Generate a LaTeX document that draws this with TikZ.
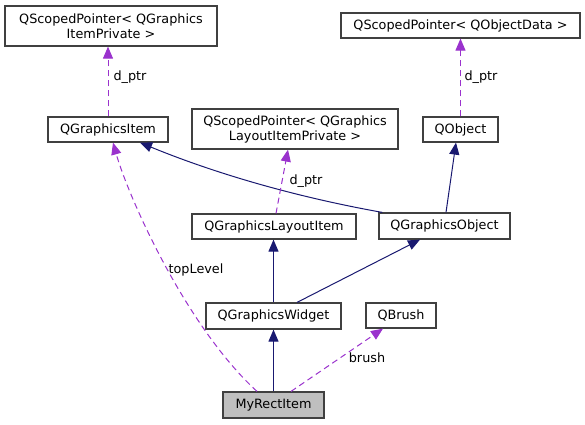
\documentclass[tikz,border=0pt]{standalone}
\usepackage{fontspec}
\setmainfont{DejaVu Sans}
\usetikzlibrary{arrows.meta}
\definecolor{edgeblue}{HTML}{191970}
\definecolor{edgepurple}{HTML}{9A32CD}
\definecolor{boxgray}{HTML}{BFBFBF}
\begin{document}
\begin{tikzpicture}[x=1pt,y=-1pt,
  box/.style={draw=black!75, line width=1.2pt, fill=white, inner sep=0pt, align=center,
              font=\fontsize{12.8}{15}\selectfont, text=black},
  inh/.style={draw=edgeblue, line width=1pt, -{Triangle[length=12pt,width=10pt]}},
  use/.style={draw=edgepurple, line width=1pt, dash pattern=on 6pt off 4pt,
              -{Triangle[length=12pt,width=10pt]}},
  lbl/.style={font=\fontsize{12.8}{15}\selectfont, inner sep=0pt, text=black}]
\useasboundingbox (0,0) rectangle (585,424);
% nodes
\node[box, minimum width=212pt, minimum height=40pt] (A) at (111,26) {QScopedPointer< QGraphics\\ItemPrivate >};
\node[box, minimum width=120pt, minimum height=25pt] (B) at (108,129.5) {QGraphicsItem};
\node[box, minimum width=206pt, minimum height=40pt] (C) at (295,129) {QScopedPointer< QGraphics\\LayoutItemPrivate >};
\node[box, minimum width=164pt, minimum height=25pt] (D) at (274,226.5) {QGraphicsLayoutItem};
\node[box, minimum width=131pt, minimum height=26pt] (E) at (444.5,226) {QGraphicsObject};
\node[box, minimum width=75pt, minimum height=25pt] (F) at (460.5,129.5) {QObject};
\node[box, minimum width=239pt, minimum height=25pt] (G) at (460.5,25.5) {QScopedPointer< QObjectData >};
\node[box, minimum width=135pt, minimum height=26pt] (H) at (273.5,316) {QGraphicsWidget};
\node[box, minimum width=70pt, minimum height=25pt] (I) at (401,315.5) {QBrush};
\node[box, fill=boxgray, minimum width=101pt, minimum height=26pt] (J) at (273.5,405) {MyRectItem};
% inheritance edges
\draw[inh] ([xshift=4pt]E.north west) .. controls +(-84,-15) and +(78,32) .. ([xshift=32pt]B.south);
\draw[inh] ([xshift=1.5pt]E.north) -- ([xshift=-4.5pt]F.south);
\draw[inh] (H.north) -- (H.north |- D.south);
\draw[inh] ([xshift=23.5pt]H.north) -- ([xshift=-24.5pt]E.south);
\draw[inh] (J.north) -- (H.south);
% usage edges
\draw[use] (B.north) -- (B.north |- A.south);
\draw[use] ([xshift=2pt]D.north) -- ([xshift=-7pt]C.south);
\draw[use] (F.north) -- (G.south);
\draw[use] ([xshift=17.5pt]J.north) -- ([xshift=-18pt]I.south);
\draw[use] ([xshift=-16.5pt]J.north) .. controls +(-72,-66) and +(15,53) .. ([xshift=5pt]B.south);
% labels
\node[lbl] (l1) at (130,77) {d\_ptr};
\node[lbl] (l2) at (306,181) {d\_ptr};
\node[lbl] (l3) at (481,77) {d\_ptr};
\node[lbl] (l4) at (196,270) {topLevel};
\node[lbl] (l5) at (367,358) {brush};
\end{tikzpicture}
\end{document}
